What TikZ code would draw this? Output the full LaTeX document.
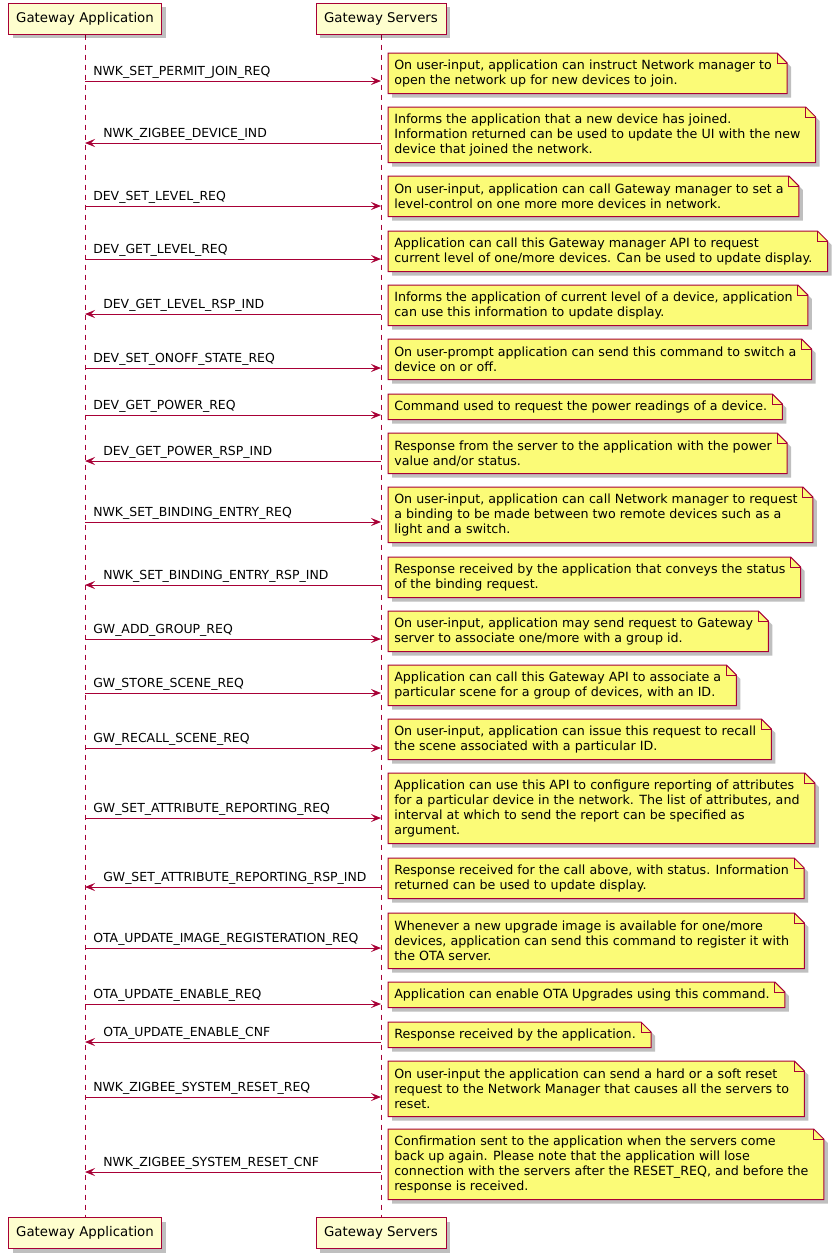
\documentclass[tikz,border=0pt]{standalone}
\usepackage{fontspec}
\setmainfont{DejaVu Sans}
\usetikzlibrary{arrows.meta,calc,shadows}
\definecolor{pumlred}{HTML}{A80036}
\definecolor{notey}{HTML}{FBFB77}
\definecolor{party}{HTML}{FEFECE}
\pgfdeclarelayer{shad}\pgfdeclarelayer{bg}\pgfsetlayers{shad,bg,main}
\newcommand\notefont{\fontsize{9.5pt}{11.25pt}\selectfont}
\newcommand\lblfont{\fontsize{9.35pt}{11.25pt}\selectfont}
\newcommand\partfont{\fontsize{10pt}{12pt}\selectfont}
\tikzset{
 part/.style={draw=pumlred, fill=party, line width=0.75pt, minimum height=23.25pt, inner sep=0pt, font=\partfont,
   drop shadow={shadow xshift=3pt, shadow yshift=-3pt, fill=black, opacity=0.25}},
 lifeline/.style={draw=pumlred, line width=0.75pt, dash pattern=on 3.75pt off 3.75pt},
 msg/.style={draw=pumlred, line width=0.75pt, -{Stealth[length=7.5pt,width=6pt,inset=3pt]}},
 lbl/.style={font=\lblfont, inner sep=0pt, anchor=base west},
 notetext/.style={anchor=north west, inner xsep=4.5pt, inner ysep=0pt, align=left, font=\notefont},
 notebox/.style={fill=notey, draw=pumlred, line width=0.75pt, line join=miter},
 shadowc/.style={fill=black, opacity=0.25},
 foldline/.style={draw=pumlred, line width=0.75pt},
}
\newcommand\mknote[4]{%
 \node[notetext, minimum height=#3*0.75pt] (#1) at (388,#2) {#4};
 \begin{pgfonlayer}{shad}
 \fill[shadowc, transform canvas={xshift=3pt,yshift=-3pt}] (#1.north west) -- ($(#1.north east)+(-1,0)$) -- ($(#1.north east)+(9,10)$) -- ($(#1.south east)+(9,0)$) -- (#1.south west) -- cycle;
 \end{pgfonlayer}
 \begin{pgfonlayer}{bg}
 \draw[notebox] (#1.north west) -- ($(#1.north east)+(-1,0)$) -- ($(#1.north east)+(9,10)$) -- ($(#1.south east)+(9,0)$) -- (#1.south west) -- cycle;
 \draw[foldline] ($(#1.north east)+(-1,0)$) -- ($(#1.north east)+(-1,10)$) -- ($(#1.north east)+(9,10)$);
 \end{pgfonlayer}}
\newcommand\msgr[3]{%
 \coordinate (a#1) at (85,#2); \coordinate (b#1) at (381,#2);
 \draw[msg] (a#1) -- (b#1);
 \node[lbl] (m#1) at (93,{#2-5.5}) {#3};}
\newcommand\msgl[3]{%
 \coordinate (a#1) at (85,#2); \coordinate (b#1) at (381,#2);
 \draw[msg] (b#1) -- (a#1);
 \node[lbl] (m#1) at (103,{#2-5.5}) {#3};}
\begin{document}
\begin{tikzpicture}[x=0.75pt,y=-0.75pt]
\useasboundingbox (0,0) rectangle (839,1258);
\node[part, minimum width=114.75pt] (pa) at (85,18.5) {Gateway Application};
\node[part, minimum width=97.5pt] (pb) at (381,18.5) {Gateway Servers};
\node[part, minimum width=114.75pt] (pa2) at (85,1233) {Gateway Application};
\node[part, minimum width=97.5pt] (pb2) at (381,1233) {Gateway Servers};
\begin{pgfonlayer}{bg}
\draw[lifeline] (pa.south) -- (pa2.north);
\draw[lifeline] (pb.south) -- (pb2.north);
\end{pgfonlayer}

\msgr{1}{81}{NWK\_SET\_PERMIT\_JOIN\_REQ}
\mknote{n1}{53}{40}{On user-input, application can instruct Network manager to\\open the network up for new devices to join.}
\msgl{2}{143}{NWK\_ZIGBEE\_DEVICE\_IND}
\mknote{n2}{107}{55}{Informs the application that a new device has joined.\\Information returned can be used to update the UI with the new\\device that joined the network.}
\msgr{3}{206}{DEV\_SET\_LEVEL\_REQ}
\mknote{n3}{176}{40}{On user-input, application can call Gateway manager to set a\\level-control on one more more devices in network.}
\msgr{4}{259}{DEV\_GET\_LEVEL\_REQ}
\mknote{n4}{231}{40}{Application can call this Gateway manager API to request\\current level of one/more devices. Can be used to update display.}
\msgl{5}{314}{DEV\_GET\_LEVEL\_RSP\_IND}
\mknote{n5}{285}{40}{Informs the application of current level of a device, application\\can use this information to update display.}
\msgr{6}{368}{DEV\_SET\_ONOFF\_STATE\_REQ}
\mknote{n6}{339}{40}{On user-prompt application can send this command to switch a\\device on or off.}
\msgr{7}{415}{DEV\_GET\_POWER\_REQ}
\mknote{n7}{394}{25}{Command used to request the power readings of a device.}
\msgl{8}{461}{DEV\_GET\_POWER\_RSP\_IND}
\mknote{n8}{433}{40}{Response from the server to the application with the power\\value and/or status.}
\msgr{9}{522}{NWK\_SET\_BINDING\_ENTRY\_REQ}
\mknote{n9}{487}{55}{On user-input, application can call Network manager to request\\a binding to be made between two remote devices such as a\\light and a switch.}
\msgl{10}{585}{NWK\_SET\_BINDING\_ENTRY\_RSP\_IND}
\mknote{n10}{557}{40}{Response received by the application that conveys the status\\of the binding request.}
\msgr{11}{639}{GW\_ADD\_GROUP\_REQ}
\mknote{n11}{611}{40}{On user-input, application may send request to Gateway\\server to associate one/more with a group id.}
\msgr{12}{693}{GW\_STORE\_SCENE\_REQ}
\mknote{n12}{665}{40}{Application can call this Gateway API to associate a\\particular scene for a group of devices, with an ID.}
\msgr{13}{748}{GW\_RECALL\_SCENE\_REQ}
\mknote{n13}{719}{40}{On user-input, application can issue this request to recall\\the scene associated with a particular ID.}
\msgr{14}{818}{GW\_SET\_ATTRIBUTE\_REPORTING\_REQ}
\mknote{n14}{773}{70}{Application can use this API to configure reporting of attributes\\for a particular device in the network. The list of attributes, and\\interval at which to send the report can be specified as\\argument.}
\msgl{15}{887}{GW\_SET\_ATTRIBUTE\_REPORTING\_RSP\_IND}
\mknote{n15}{858}{40}{Response received for the call above, with status. Information\\returned can be used to update display.}
\msgr{16}{948}{OTA\_UPDATE\_IMAGE\_REGISTERATION\_REQ}
\mknote{n16}{913}{55}{Whenever a new upgrade image is available for one/more\\devices, application can send this command to register it with\\the OTA server.}
\msgr{17}{1004}{OTA\_UPDATE\_ENABLE\_REQ}
\mknote{n17}{982}{25}{Application can enable OTA Upgrades using this command.}
\msgl{18}{1042}{OTA\_UPDATE\_ENABLE\_CNF}
\mknote{n18}{1022}{25}{Response received by the application.}
\msgr{19}{1097}{NWK\_ZIGBEE\_SYSTEM\_RESET\_REQ}
\mknote{n19}{1061}{55}{On user-input the application can send a hard or a soft reset\\request to the Network Manager that causes all the servers to\\reset.}
\msgl{20}{1172}{NWK\_ZIGBEE\_SYSTEM\_RESET\_CNF}
\mknote{n20}{1129}{70}{Confirmation sent to the application when the servers come\\back up again. Please note that the application will lose\\connection with the servers after the RESET\_REQ, and before the\\response is received.}
\end{tikzpicture}
\end{document}
